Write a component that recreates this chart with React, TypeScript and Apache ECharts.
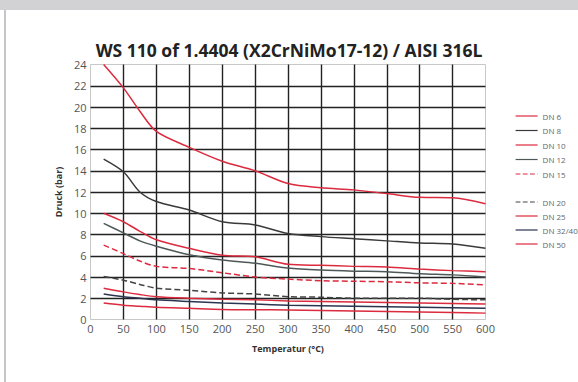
import React, { useEffect, useRef } from "react";
import * as echarts from "echarts";

const temps = [20, 50, 75, 100, 150, 200, 250, 300, 350, 400, 450, 500, 550, 600];
const seriesNames = ["DN 6", "DN 8", "DN 10", "DN 12", "DN 15", "DN 20", "DN 25", "DN 32/40", "DN 50"];
const dn6 = [24, 21.8, 19.6, 17.7, 16.2, 14.9, 14.0, 12.8, 12.4, 12.2, 11.85, 11.5, 11.45, 10.9];
const dn8 = [15.1, 13.9, 12.0, 11.1, 10.3, 9.2, 8.9, 8.1, 7.8, 7.6, 7.4, 7.2, 7.1, 6.7];
const dn10 = [10.0, 9.2, 8.3, 7.5, 6.7, 6.05, 5.9, 5.2, 5.1, 5.0, 4.95, 4.75, 4.6, 4.5];
const dn12 = [9.05, 8.15, 7.4, 6.9, 6.1, 5.6, 5.3, 4.85, 4.65, 4.55, 4.5, 4.3, 4.2, 4.0];
const dn15 = [7.0, 6.2, 5.5, 5.0, 4.8, 4.4, 4.0, 3.8, 3.65, 3.6, 3.55, 3.45, 3.4, 3.25];
const dn20 = [4.05, 3.7, 3.3, 2.95, 2.75, 2.5, 2.4, 2.15, 2.1, 2.0, 2.0, 2.0, 1.9, 1.85];
const dn25 = [2.95, 2.6, 2.35, 2.15, 2.0, 1.9, 1.85, 1.75, 1.7, 1.65, 1.6, 1.55, 1.5, 1.45];
const dn3240 = [2.4, 2.15, 2.0, 1.85, 1.7, 1.55, 1.45, 1.35, 1.3, 1.25, 1.2, 1.15, 1.1, 1.05];
const dn50 = [1.55, 1.35, 1.25, 1.15, 1.05, 0.95, 0.92, 0.9, 0.85, 0.8, 0.75, 0.7, 0.65, 0.6];
const allValues = [dn6, dn8, dn10, dn12, dn15, dn20, dn25, dn3240, dn50];

const RED = "#dc2a3e";
const styles = [
  { color: RED, type: "solid" },
  { color: "#3a3a3a", type: "solid" },
  { color: RED, type: "solid" },
  { color: "#4f5858", type: "solid" },
  { color: RED, type: "dashed" },
  { color: "#444444", type: "dashed" },
  { color: RED, type: "solid" },
  { color: "#2b3550", type: "solid" },
  { color: RED, type: "solid" },
];

export default function App() {
  const ref = useRef<HTMLDivElement>(null);
  useEffect(() => {
    if (!ref.current) return;
    const chart = echarts.init(ref.current, undefined, { renderer: "svg" });
    const font = "'Open Sans', sans-serif";
    const legendBase = {
      orient: "vertical",
      left: 515,
      padding: 0,
      itemWidth: 22,
      itemHeight: 8,
      itemStyle: { opacity: 0 },
      lineStyle: { width: 1.2 },
      textStyle: { fontSize: 8, color: "#666", fontFamily: font },
    };
    chart.setOption({
      animation: false,
      backgroundColor: "#ffffff",
      title: {
        text: "WS 110 of 1.4404 (X2CrNiMo17-12) / AISI 316L",
        left: 284,
        textAlign: "center",
        top: 36,
        textStyle: { fontSize: 17.5, fontWeight: "bold", color: "#222", fontFamily: font },
      },
      graphic: [
        { type: "rect", left: 0, top: 0, shape: { width: 578, height: 10 }, style: { fill: "#d2d2d4" } },
        { type: "rect", left: 4, top: 10, shape: { width: 2, height: 372 }, style: { fill: "#c6c6c8" } },
      ],
      legend: [
        { ...legendBase, data: seriesNames.slice(0, 5), top: 112, itemGap: 6.5 },
        { ...legendBase, data: seriesNames.slice(5), top: 198, itemGap: 6 },
      ],
      grid: {
        left: 90.5,
        top: 64.5,
        width: 395,
        height: 255,
        show: true,
        borderColor: "#c8c8c8",
        borderWidth: 1,
        containLabel: false,
      },
      xAxis: {
        type: "value",
        min: 0,
        max: 600,
        interval: 50,
        name: "Temperatur (°C)",
        nameLocation: "middle",
        nameGap: 24,
        nameTextStyle: { fontSize: 9, fontWeight: "bold", color: "#333", fontFamily: font },
        axisLine: { show: false },
        axisTick: { show: false },
        axisLabel: { fontSize: 11, color: "#555", margin: 3, fontFamily: font },
        splitLine: { show: true, showMinLine: false, showMaxLine: false, lineStyle: { color: "#222", width: 1.4 } },
      },
      yAxis: {
        type: "value",
        min: 0,
        max: 24,
        interval: 2,
        name: "Druck (bar)",
        nameLocation: "middle",
        nameGap: 25,
        nameTextStyle: { fontSize: 9, fontWeight: "bold", color: "#333", fontFamily: font },
        axisLine: { show: false },
        axisTick: { show: false },
        axisLabel: { fontSize: 11, color: "#555", margin: 4, fontFamily: font },
        splitLine: { show: true, showMinLine: false, showMaxLine: false, lineStyle: { color: "#222", width: 1.4 } },
      },
      series: seriesNames.map((name, i) => ({
        name,
        type: "line",
        smooth: 0.3,
        symbol: "none",
        showSymbol: false,
        data: temps.map((t, j) => [t, allValues[i][j]]),
        lineStyle: { color: styles[i].color, type: styles[i].type, width: 1.5 },
        itemStyle: { color: styles[i].color },
        z: 3,
      })),
    });
    return () => chart.dispose();
  }, []);
  return <div ref={ref} style={{ position: "fixed", left: 0, top: 0, width: 578, height: 382 }} />;
}
